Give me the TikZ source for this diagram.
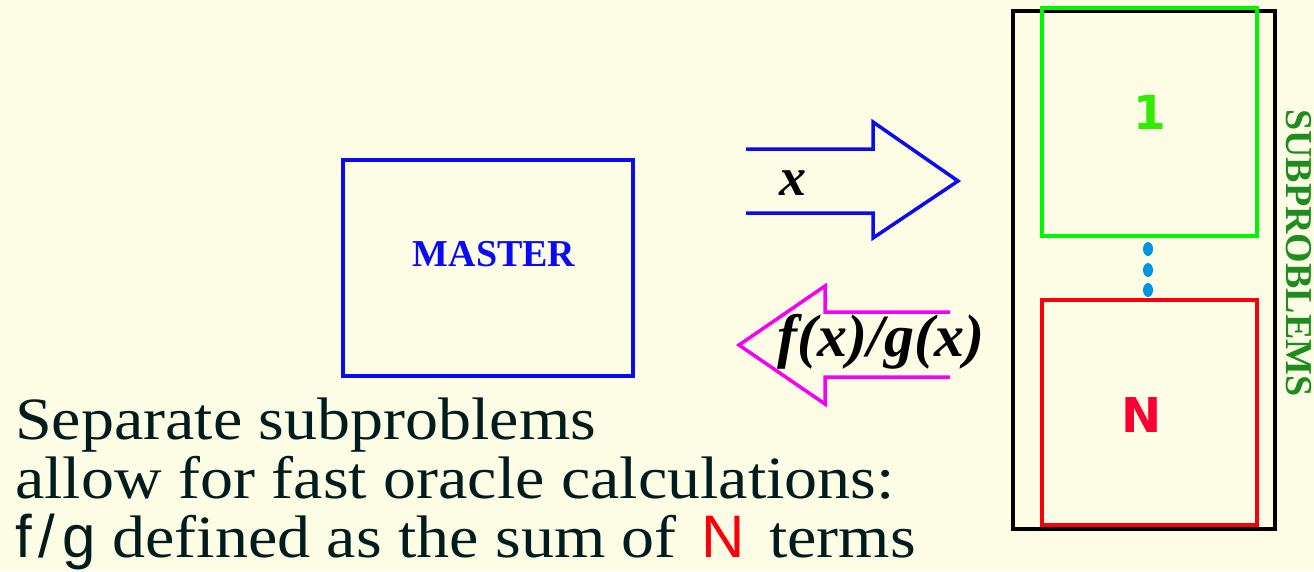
\documentclass[tikz,border=0pt]{standalone}
\usepackage{fontspec}
\setmainfont{Liberation Serif}
\newfontfamily\bodyfont[FakeStretch=1.1]{Liberation Serif}
\newfontfamily\bodysans[FakeStretch=1.0]{Liberation Sans}
\newfontfamily\labsans{DejaVu Sans}
\definecolor{bg}{RGB}{253,253,230}
\definecolor{txt}{RGB}{0,28,28}
\definecolor{arrblue}{RGB}{10,10,245}
\definecolor{mag}{RGB}{245,0,245}
\definecolor{gbox}{RGB}{0,245,0}
\definecolor{gone}{RGB}{50,235,0}
\definecolor{rbox}{RGB}{250,0,10}
\definecolor{rn}{RGB}{250,0,50}
\definecolor{dotc}{RGB}{0,150,225}
\definecolor{subg}{RGB}{30,140,30}
\usetikzlibrary{shapes.geometric}
\tikzset{
  box/.style={line width=3.5pt},
  lab/.style={inner sep=0pt, anchor=center},
  capline/.style={anchor=base west, inner sep=0pt, text=txt, font=\bodyfont\fontsize{60}{59}\selectfont},
  dotnode/.style={ellipse, fill=dotc, minimum width=10pt, minimum height=14pt, inner sep=0pt},
}
\begin{document}
\begin{tikzpicture}[x=1pt,y=-1pt]
\fill[bg] (0,0) rectangle (1314,571);
\useasboundingbox (0,0) rectangle (1314,571);
% master
\draw[box, arrblue] (343,160) rectangle (633,376);
\node[lab, text=arrblue, font=\fontsize{38}{40}\selectfont\bfseries] (master) at (494,254) {MASTER};
% right arrow
\draw[box, arrblue, line join=miter]
  (746,149) -- (873,149) -- (873,122) -- (958,181) -- (873,238) -- (873,213) -- (746,213);
\node[lab, font=\fontsize{54}{56}\selectfont\bfseries\itshape] (xlab) at (793,183) {x};
% left arrow
\draw[box, mag, line join=miter]
  (950,312) -- (825,312) -- (825,286) -- (739,345) -- (825,404) -- (825,377) -- (950,377);
\node[lab, font=\fontsize{60}{62}\selectfont\bfseries\itshape] (fg) at (881,342) {f(x)/g(x)};
% subproblems
\draw[line width=4.5pt, black] (1013,11) rectangle (1275,529);
\draw[box, gbox] (1042,8) rectangle (1257,236);
\draw[box, rbox] (1042,300) rectangle (1257,525);
\node[lab, text=gone, font=\labsans\fontsize{47}{48}\selectfont\bfseries] (one) at (1150,112) {1};
\node[lab, text=rn, font=\labsans\fontsize{48}{49}\selectfont\bfseries] (nn) at (1142,415) {N};
\node[dotnode] (d1) at (1148,249) {};
\node[dotnode] (d2) at (1148,270) {};
\node[dotnode] (d3) at (1148,290) {};
\node[lab, rotate=-90, text=subg, font=\fontsize{38}{40}\selectfont\bfseries] (sub) at (1299,253) {SUBPROBLEMS};
% caption
\node[capline] (l1) at (15,439) {Separate subproblems};
\node[capline] (l2) at (15,498) {allow for fast oracle calculations:};
\node[capline] (l3) at (15,557) {{\bodysans f\kern7pt/\kern7pt g} defined as the sum of\kern8pt\ {\color{rbox}\bodysans N}\kern8pt\ terms};
\end{tikzpicture}
\end{document}
